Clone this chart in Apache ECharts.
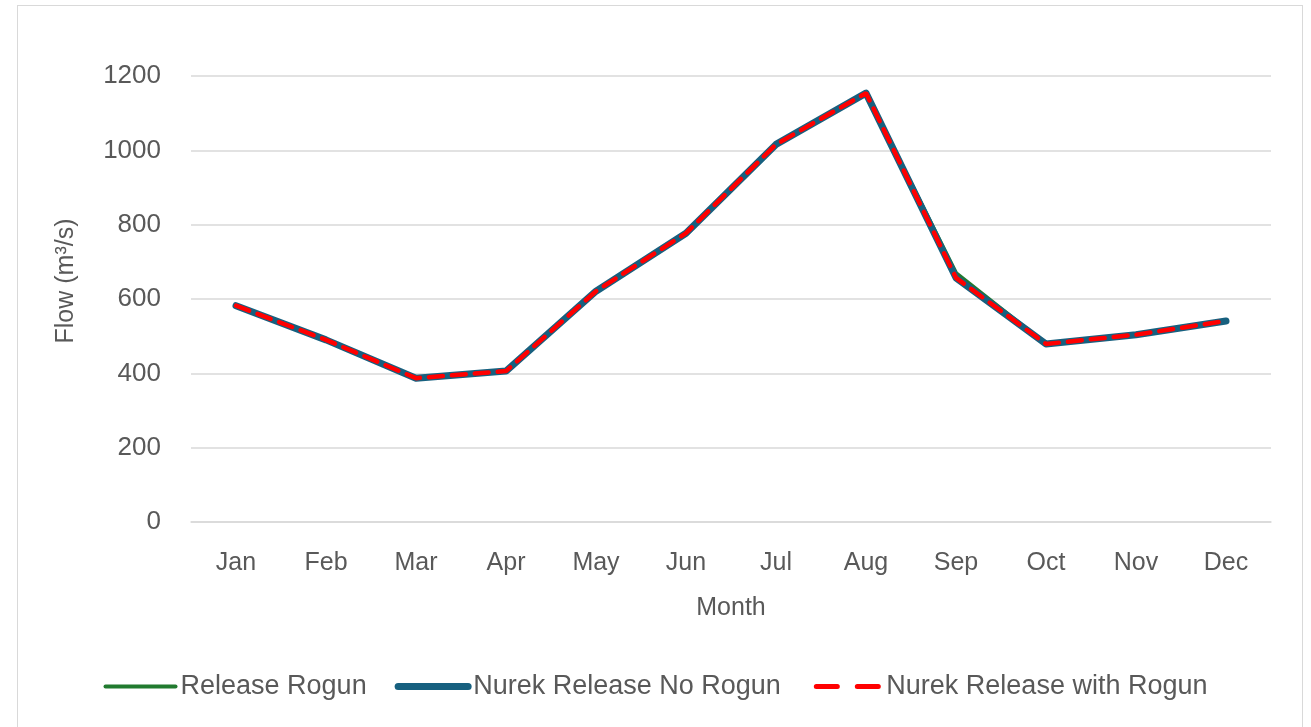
<!DOCTYPE html>
<html>
<head>
<meta charset="utf-8">
<script src="https://cdn.jsdelivr.net/npm/echarts@6/dist/echarts.min.js"></script>
<style>
    html, body { margin: 0; padding: 0; background: #ffffff; }
    #frame {
        position: absolute; left: 17px; top: 5px; width: 1286px; height: 730px;
        border: 1px solid #d9d9d9; box-sizing: border-box;
    }
    #chart { position: absolute; left: 0; top: 0; width: 1311px; height: 727px; }
</style>
</head>
<body>
<div id="frame"></div>
<div id="chart"></div>
<script>
// monthly flows (m3/s)
var months = ['Jan', 'Feb', 'Mar', 'Apr', 'May', 'Jun', 'Jul', 'Aug', 'Sep', 'Oct', 'Nov', 'Dec'];
var releaseRogun = [582, 490, 387, 406, 621, 777, 1016, 1154, 670, 479, 504, 541];
var nurekNoRogun = [582, 490, 387, 406, 621, 777, 1016, 1154, 657, 479, 504, 541];
var nurekWithRogun = [582, 490, 387, 406, 621, 777, 1016, 1154, 657, 479, 504, 541];
var seriesNames = ['Release Rogun', 'Nurek Release No Rogun', 'Nurek Release with Rogun'];

var chart = echarts.init(document.getElementById('chart'));

var font = 'Liberation Sans, Arial, sans-serif';
var green = '#217a2f', blue = '#17607f', red = '#ff0000';

var option = {
    animation: false,
    grid: {
        left: 191,
        right: 40,
        top: 76,
        bottom: 205
    },
    legend: {
        bottom: 22,
        left: 'center',
        itemWidth: 70,
        itemHeight: 14,
        itemGap: 28,
        itemStyle: { opacity: 0 },
        textStyle: {
            fontFamily: font,
            fontSize: 27,
            color: '#595959'
        },
        data: [
            { name: seriesNames[0], lineStyle: { width: 4, color: green } },
            { name: seriesNames[1], lineStyle: { width: 7, color: blue } },
            { name: seriesNames[2], lineStyle: { width: 5, color: red, type: [21, 20], dashOffset: -5 } }
        ]
    },
    xAxis: {
        type: 'category',
        data: months,
        boundaryGap: true,
        name: 'Month',
        nameLocation: 'middle',
        nameGap: 74,
        nameTextStyle: { fontFamily: font, fontSize: 25, color: '#595959' },
        axisLine: { lineStyle: { color: '#d9d9d9', width: 1.5 } },
        axisTick: { show: false },
        axisLabel: { fontFamily: font, fontSize: 25, color: '#595959', margin: 29 }
    },
    yAxis: {
        type: 'value',
        min: 0,
        max: 1200,
        interval: 200,
        name: 'Flow (m³/s)',
        nameLocation: 'middle',
        nameGap: 112,
        nameTextStyle: { fontFamily: font, fontSize: 25, color: '#595959', padding: [0, 0, 0, 36] },
        axisLine: { show: false },
        axisTick: { show: false },
        axisLabel: {
            fontFamily: font, fontSize: 26, color: '#595959', margin: 30,
            formatter: function (v) { return String(v); }
        },
        splitLine: { lineStyle: { color: '#d9d9d9', width: 1.5 } }
    },
    series: [
        {
            name: seriesNames[0],
            type: 'line',
            data: releaseRogun,
            symbol: 'none',
            color: green,
            lineStyle: { width: 4, color: green, cap: 'round', join: 'round' },
            z: 1
        },
        {
            name: seriesNames[1],
            type: 'line',
            data: nurekNoRogun,
            symbol: 'none',
            color: blue,
            lineStyle: { width: 7, color: blue, cap: 'round', join: 'round' },
            z: 2
        },
        {
            name: seriesNames[2],
            type: 'line',
            data: nurekWithRogun,
            symbol: 'none',
            color: red,
            lineStyle: { width: 4.5, color: red, type: [14, 9], cap: 'round' },
            z: 3
        }
    ]
};

chart.setOption(option);
</script>
</body>
</html>
